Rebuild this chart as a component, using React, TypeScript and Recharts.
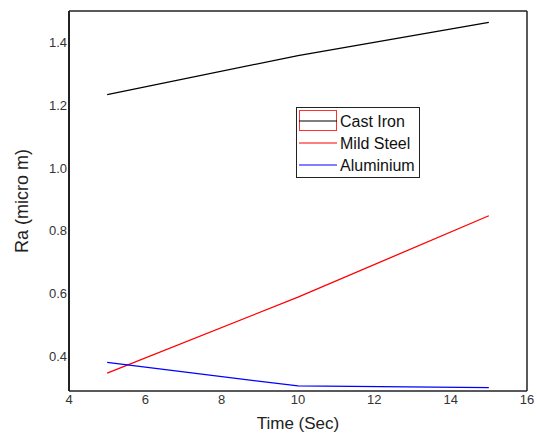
import { Line, LineChart, ReferenceLine, XAxis, YAxis } from "recharts";

const times = [5, 10, 15];
const castIron = [1.234, 1.358, 1.464];
const mildSteel = [0.347, 0.589, 0.848];
const aluminium = [0.381, 0.306, 0.301];
const xTicks = [4, 6, 8, 10, 12, 14, 16];
const yTicks = [0.4, 0.6, 0.8, 1.0, 1.2, 1.4];

const series = [
  { key: "castIron", name: "Cast Iron", color: "#000000" },
  { key: "mildSteel", name: "Mild Steel", color: "#ff0000" },
  { key: "aluminium", name: "Aluminium", color: "#0000ff" },
];

const data = times.map((t, i) => ({
  time: t,
  castIron: castIron[i],
  mildSteel: mildSteel[i],
  aluminium: aluminium[i],
}));

const font = "'Liberation Sans', Arial, sans-serif";
const frame = "#222222";

// legend drawn as an overlay, like the boxed legend in the original plot
function LegendBox() {
  return (
    <div
      style={{
        position: "absolute",
        left: 296,
        top: 107,
        width: 124,
        height: 71,
        border: "1.5px solid #222",
        background: "#fff",
        padding: "1px 0 0 2px",
        fontFamily: font,
        fontSize: 16,
        color: "#111",
        boxSizing: "border-box",
      }}
    >
      {series.map((s, i) => (
        <div key={s.key} style={{ display: "flex", alignItems: "center", height: 22 }}>
          <svg width={38} height={22} style={{ marginRight: 3, display: "block" }}>
            {i === 0 && (
              <rect x={0.5} y={1.5} width={37} height={20} fill="none" stroke="#ff3030" strokeWidth={1} />
            )}
            <line x1={0} x2={38} y1={12} y2={12} stroke={s.color} strokeWidth={1.2} />
          </svg>
          <span style={{ position: "relative", top: 2 }}>{s.name}</span>
        </div>
      ))}
    </div>
  );
}

export default function App() {
  return (
    <div style={{ position: "absolute", left: 0, top: 0, width: 537, height: 433, background: "#fff" }}>
      <LineChart
        width={537}
        height={433}
        data={data}
        margin={{ top: 11, right: 10, bottom: 0, left: 0 }}
      >
        <XAxis
          dataKey="time"
          type="number"
          domain={[4, 16]}
          ticks={xTicks}
          allowDataOverflow
          tickLine={false}
          tickSize={0}
          tickMargin={4}
          height={42}
          axisLine={{ stroke: frame, strokeWidth: 1.5 }}
          tick={{ fill: "#333", fontSize: 13, fontFamily: font }}
          label={{
            value: "Time (Sec)",
            position: "insideBottom",
            offset: 4,
            fill: "#222",
            fontSize: 17,
            fontFamily: font,
          }}
        />
        <YAxis
          type="number"
          domain={[0.29, 1.5]}
          ticks={yTicks}
          allowDataOverflow
          tickLine={false}
          tickSize={0}
          tickMargin={2}
          width={69}
          axisLine={{ stroke: frame, strokeWidth: 2 }}
          tickFormatter={(v: number) => v.toFixed(1)}
          tick={{ fill: "#333", fontSize: 13, fontFamily: font }}
          label={{
            value: "Ra (micro m)",
            angle: -90,
            position: "insideLeft",
            offset: 22,
            style: { textAnchor: "middle" },
            fill: "#222",
            fontSize: 18,
            fontFamily: font,
          }}
        />
        {/* top and right edges of the frame */}
        <ReferenceLine y={1.5} stroke={frame} strokeWidth={1.5} />
        <ReferenceLine x={16} stroke={frame} strokeWidth={1.5} />
        {series.map((s) => (
          <Line
            key={s.key}
            dataKey={s.key}
            name={s.name}
            type="linear"
            stroke={s.color}
            strokeWidth={1.3}
            dot={false}
            isAnimationActive={false}
          />
        ))}
      </LineChart>
      <LegendBox />
    </div>
  );
}
